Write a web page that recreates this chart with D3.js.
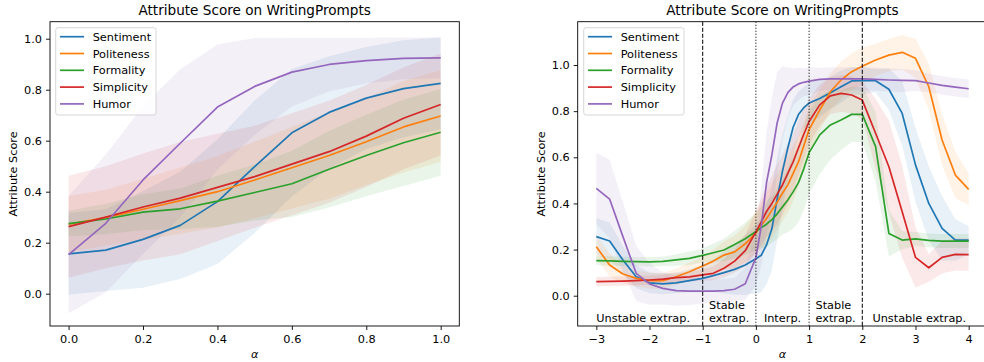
<!DOCTYPE html>
<html><head><meta charset="utf-8">
<script src="https://cdn.jsdelivr.net/npm/d3@7"></script>
<style>
html,body{margin:0;padding:0;background:#fff;}
svg{display:block;font-family:"DejaVu Sans",sans-serif;}
</style></head>
<body>
<svg id="chart" width="984" height="362"></svg>
<script>
// ---------------- DATA ----------------
const seriesNames = ["Sentiment","Politeness","Formality","Simplicity","Humor"];
const titleText = "Attribute Score on WritingPrompts";

// Left panel (interpolation 0..1)
const alphaL = [0,0.1,0.2,0.3,0.4,0.5,0.6,0.7,0.8,0.9,1.0];
const sentL = [0.156,0.171,0.213,0.268,0.361,0.498,0.631,0.711,0.767,0.804,0.825];
const poliL = [0.273,0.298,0.331,0.365,0.400,0.446,0.494,0.542,0.596,0.654,0.697];
const formL = [0.275,0.293,0.320,0.333,0.363,0.397,0.431,0.488,0.542,0.592,0.633];
const simpL = [0.263,0.300,0.340,0.375,0.417,0.459,0.508,0.557,0.618,0.688,0.742];
const humoL = [0.153,0.276,0.446,0.590,0.732,0.813,0.869,0.899,0.914,0.923,0.925];
const sentSdL = [0.16,0.16,0.19,0.21,0.245,0.26,0.25,0.22,0.20,0.19,0.18];
const poliSdL = [0.11,0.11,0.12,0.13,0.14,0.15,0.16,0.17,0.17,0.18,0.18];
const formSdL = [0.05,0.06,0.07,0.08,0.10,0.11,0.13,0.15,0.16,0.17,0.17];
const simpSdL = [0.20,0.20,0.21,0.22,0.21,0.20,0.20,0.20,0.20,0.20,0.20];
const humoSdL = [0.23,0.27,0.29,0.29,0.245,0.19,0.135,0.105,0.09,0.082,0.08];
const xTicksL = [0,0.2,0.4,0.6,0.8,1.0];
const yTicks = [0,0.2,0.4,0.6,0.8,1.0];

// Right panel (-3..4)
const alphaR = [-3,-2.75,-2.5,-2.25,-2,-1.75,-1.5,-1.25,-1,-0.8,-0.6,-0.4,-0.2,
  0,0.1,0.2,0.3,0.4,0.5,0.6,0.7,0.8,0.9,1.0,1.2,1.4,1.6,1.8,2.0,2.25,2.5,2.75,3,3.25,3.5,3.75,4];
const sentR = [0.256,0.237,0.155,0.082,0.056,0.051,0.056,0.065,0.075,0.087,0.100,0.114,0.133,
  0.160,0.175,0.220,0.290,0.420,0.540,0.640,0.730,0.785,0.815,0.835,0.855,0.880,0.906,0.931,0.932,0.932,0.895,0.790,0.567,0.400,0.292,0.241,0.241];
const poliR = [0.212,0.133,0.094,0.075,0.065,0.065,0.082,0.104,0.129,0.150,0.176,0.190,0.225,
  0.272,0.305,0.335,0.370,0.405,0.445,0.480,0.530,0.580,0.650,0.720,0.805,0.884,0.935,0.971,0.995,1.022,1.043,1.055,1.029,0.906,0.675,0.523,0.461];
const formR = [0.152,0.151,0.149,0.148,0.147,0.149,0.155,0.162,0.175,0.186,0.198,0.222,0.247,
  0.278,0.295,0.310,0.330,0.355,0.385,0.415,0.450,0.490,0.550,0.620,0.697,0.740,0.762,0.786,0.786,0.646,0.270,0.241,0.246,0.240,0.237,0.237,0.237];
const simpR = [0.061,0.062,0.063,0.065,0.068,0.072,0.078,0.082,0.090,0.097,0.119,0.150,0.195,
  0.277,0.320,0.365,0.400,0.440,0.480,0.530,0.580,0.640,0.700,0.755,0.827,0.866,0.877,0.870,0.848,0.704,0.559,0.364,0.166,0.121,0.166,0.179,0.178];
const humoR = [0.465,0.419,0.256,0.097,0.051,0.032,0.022,0.020,0.020,0.020,0.022,0.028,0.052,
  0.165,0.300,0.490,0.610,0.750,0.835,0.880,0.905,0.918,0.925,0.930,0.938,0.940,0.940,0.940,0.940,0.938,0.935,0.933,0.932,0.922,0.912,0.904,0.897];
const sentSdR = [0.08,0.08,0.06,0.05,0.045,0.045,0.045,0.05,0.06,0.07,0.09,0.11,0.13,
  0.15,0.16,0.17,0.18,0.18,0.16,0.14,0.12,0.10,0.09,0.09,0.08,0.07,0.07,0.06,0.06,0.05,0.09,0.14,0.16,0.16,0.14,0.09,0.06];
const poliSdR = [0.05,0.05,0.04,0.035,0.035,0.035,0.035,0.04,0.04,0.05,0.06,0.07,0.08,
  0.09,0.10,0.11,0.12,0.12,0.12,0.12,0.12,0.11,0.10,0.10,0.09,0.08,0.08,0.08,0.08,0.07,0.07,0.075,0.085,0.10,0.11,0.10,0.07];
const formSdR = [0.02,0.02,0.02,0.02,0.02,0.02,0.025,0.03,0.03,0.04,0.05,0.06,0.07,
  0.08,0.09,0.10,0.10,0.11,0.12,0.14,0.16,0.17,0.18,0.18,0.17,0.15,0.13,0.12,0.12,0.15,0.10,0.04,0.03,0.03,0.03,0.03,0.03];
const simpSdR = [0.02,0.02,0.02,0.02,0.02,0.02,0.02,0.02,0.025,0.03,0.04,0.05,0.07,
  0.09,0.10,0.11,0.12,0.13,0.13,0.13,0.12,0.12,0.11,0.10,0.09,0.08,0.08,0.08,0.08,0.15,0.20,0.20,0.13,0.06,0.07,0.07,0.07];
const humoSdR = [0.155,0.17,0.15,0.12,0.09,0.07,0.065,0.06,0.055,0.05,0.05,0.05,0.07,
  0.12,0.17,0.22,0.25,0.22,0.16,0.11,0.08,0.07,0.06,0.06,0.05,0.05,0.05,0.05,0.05,0.05,0.05,0.05,0.045,0.04,0.04,0.04,0.04];
const xTicksR = [-3,-2,-1,0,1,2,3,4];
const dashedAt = [-1,2];
const dottedAt = [0,1];
const regionLabels = [
  {x:-3,   lines:["Unstable extrap."]},
  {x:-0.88,lines:["Stable","extrap."]},
  {x:0.15, lines:["Interp."]},
  {x:1.12, lines:["Stable","extrap."]},
  {x:2.19, lines:["Unstable extrap."]}
];
const colors = ["#1f77b4","#ff7f0e","#2ca02c","#d62728","#9467bd"];

// ---------------- DRAW ----------------
const svg = d3.select("#chart");
const FS = 11.3;

function panel(opts){
  const {box, xDomain, yDomain, alpha, means, sds, xTicks, xFmt, legendPos, id} = opts;
  const x = d3.scaleLinear().domain(xDomain).range([box.x0, box.x1]);
  const y = d3.scaleLinear().domain(yDomain).range([box.y1, box.y0]);
  const g = svg.append("g");
  g.append("clipPath").attr("id","clip"+id).append("rect")
    .attr("x",box.x0).attr("y",box.y0).attr("width",box.x1-box.x0).attr("height",box.y1-box.y0);
  const plot = g.append("g").attr("clip-path","url(#clip"+id+")");
  // bands
  means.forEach((m,i)=>{
    const area = d3.area().x((d,j)=>x(alpha[j])).y0((d,j)=>y(m[j]-sds[i][j])).y1((d,j)=>y(m[j]+sds[i][j]));
    plot.append("path").attr("d",area(m)).attr("fill",colors[i]).attr("fill-opacity",0.1).attr("stroke","none");
  });
  const line = d3.line().x((d,j)=>x(alpha[j])).y(d=>y(d));
  means.forEach((m,i)=>{
    plot.append("path").attr("d",line(m)).attr("fill","none").attr("stroke",colors[i])
      .attr("stroke-width",1.7).attr("stroke-linejoin","round");
  });
  if(opts.extra) opts.extra(plot, x, y, g);
  // spines
  g.append("rect").attr("x",box.x0).attr("y",box.y0).attr("width",box.x1-box.x0).attr("height",box.y1-box.y0)
    .attr("fill","none").attr("stroke","#000").attr("stroke-width",0.9);
  // x axis
  const xa = g.append("g").attr("transform",`translate(0,${box.y1})`)
    .call(d3.axisBottom(x).tickValues(xTicks).tickFormat(xFmt).tickSize(4).tickPadding(4.5));
  xa.select(".domain").remove();
  xa.selectAll("line").attr("stroke","#000").attr("stroke-width",0.9);
  xa.selectAll("text").attr("font-size",FS).attr("fill","#000").attr("font-family","DejaVu Sans");
  // y axis
  const ya = g.append("g").attr("transform",`translate(${box.x0},0)`)
    .call(d3.axisLeft(y).tickValues(yTicks).tickFormat(d3.format(".1f")).tickSize(4).tickPadding(4));
  ya.select(".domain").remove();
  ya.selectAll("line").attr("stroke","#000").attr("stroke-width",0.9);
  ya.selectAll("text").attr("font-size",FS).attr("fill","#000").attr("font-family","DejaVu Sans");
  // labels
  const cx = (box.x0+box.x1)/2, cy = (box.y0+box.y1)/2;
  g.append("text").attr("x",cx).attr("y",15).attr("text-anchor","middle").attr("font-size",13.6).text(titleText);
  g.append("text").attr("x",cx).attr("y",358).attr("text-anchor","middle").attr("font-size",FS)
    .attr("font-style","italic").text("α");
  g.append("text").attr("transform",`translate(${box.x0-32.7},${cy}) rotate(-90)`).attr("text-anchor","middle")
    .attr("font-size",FS).text("Attribute Score");
  // legend
  const lg = g.append("g").attr("transform",`translate(${legendPos[0]},${legendPos[1]})`);
  lg.append("rect").attr("x",0).attr("y",0).attr("width",100.3).attr("height",87.3).attr("rx",2.5)
    .attr("fill","#fff").attr("fill-opacity",0.8).attr("stroke","#cccccc").attr("stroke-opacity",0.8).attr("stroke-width",1);
  seriesNames.forEach((n,i)=>{
    const ry = 9 + i*16.8;
    lg.append("line").attr("x1",4.3).attr("x2",28.3).attr("y1",ry).attr("y2",ry)
      .attr("stroke",colors[i]).attr("stroke-width",1.7);
    lg.append("text").attr("x",37).attr("y",ry+4.1).attr("font-size",FS).text(n);
  });
}

panel({
  id:"L",
  box:{x0:50,x1:459.3,y0:21.7,y1:326},
  xDomain:[-0.05,1.05], yDomain:[-0.1267,1.0667],
  alpha:alphaL, means:[sentL,poliL,formL,simpL,humoL], sds:[sentSdL,poliSdL,formSdL,simpSdL,humoSdL],
  xTicks:xTicksL, xFmt:d3.format(".1f"), legendPos:[55.7,27.7]
});

panel({
  id:"R",
  box:{x0:577.7,x1:987.3,y0:21.7,y1:326},
  xDomain:[-3.35,4.35], yDomain:[-0.1313,1.1877],
  alpha:alphaR, means:[sentR,poliR,formR,simpR,humoR], sds:[sentSdR,poliSdR,formSdR,simpSdR,humoSdR],
  xTicks:xTicksR, xFmt:d=>(d<0?"\u2212"+Math.abs(d):String(d)), legendPos:[583.7,27.7],
  extra:(plot,x,y,g)=>{
    dashedAt.forEach(v=>{
      plot.append("line").attr("x1",x(v)).attr("x2",x(v)).attr("y1",21.7).attr("y2",326)
        .attr("stroke","#000").attr("stroke-width",1).attr("stroke-dasharray","4.2,1.8");
    });
    dottedAt.forEach(v=>{
      plot.append("line").attr("x1",x(v)).attr("x2",x(v)).attr("y1",21.7).attr("y2",326)
        .attr("stroke","#000").attr("stroke-width",1).attr("stroke-dasharray","1.1,1.9");
    });
    regionLabels.forEach(r=>{
      const n = r.lines.length;
      r.lines.forEach((t,k)=>{
        plot.append("text").attr("x",x(r.x)).attr("y",321.6-(n-1-k)*12.7)
          .attr("font-size",FS).attr("text-anchor","start").text(t);
      });
    });
  }
});
</script>
</body></html>
